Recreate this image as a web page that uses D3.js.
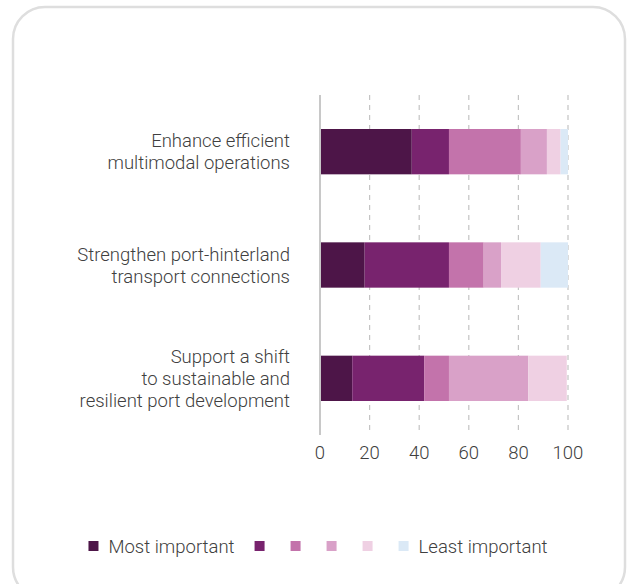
<!DOCTYPE html>
<html lang="en">
<head>
  <meta charset="UTF-8">
  <title>Priority ranking stacked bars</title>
  <script src="https://d3js.org/d3.v7.min.js"></script>
  <style>
    html, body {
      margin: 0;
      padding: 0;
      background: #fff;
    }
    svg text {
      font-family: Roboto, "Noto Sans", sans-serif;
      font-weight: 300;
      fill: #404040;
    }
  </style>
</head>
<body>
  <div id="chart"></div>
  <script>
    // Data (shares in %, most -> least important)
    var categories = [
      "Enhance efficient\nmultimodal operations",
      "Strengthen port-hinterland\ntransport connections",
      "Support a shift\nto sustainable and\nresilient port development"
    ];
    var rankKeys = ["r1", "r2", "r3", "r4", "r5", "r6"];
    var rank1 = [37, 18, 13];
    var rank2 = [15, 34, 29];
    var rank3 = [29, 14, 10];
    var rank4 = [10.5, 7, 32];
    var rank5 = [5.5, 16, 15.5];
    var rank6 = [3, 11, 0];
    var rankColors = ["#4d1548", "#78236e", "#c373ab", "#d9a1c8", "#efd0e3", "#dbe9f6"];
    var legendLabels = ["Most important", "", "", "", "", "Least important"];
    var tickValues = [0, 20, 40, 60, 80, 100];

    var width = 628, height = 584;
    var fontSize = 18.5;

    var svg = d3.select("#chart").append("svg")
      .attr("width", width)
      .attr("height", height);

    // card outline
    svg.append("rect")
      .attr("x", 13).attr("y", 7)
      .attr("width", 612).attr("height", 592)
      .attr("rx", 32).attr("ry", 32)
      .attr("fill", "#fff")
      .attr("stroke", "#dedede")
      .attr("stroke-width", 2.5);

    var x = d3.scaleLinear().domain([0, 100]).range([320, 568]);
    var y = d3.scaleBand().domain(categories).range([95, 435])
      .paddingInner(0.6).paddingOuter(0.3);

    // dashed gridlines
    svg.append("g")
      .selectAll("line")
      .data(tickValues.slice(1))
      .join("line")
      .attr("x1", d => x(d)).attr("x2", d => x(d))
      .attr("y1", 95).attr("y2", 435)
      .attr("stroke", "#c4c4c4")
      .attr("stroke-width", 1.2)
      .attr("stroke-dasharray", "5,5");

    // stacked bars
    var rows = categories.map(function(c, i) {
      return { cat: c, r1: rank1[i], r2: rank2[i], r3: rank3[i], r4: rank4[i], r5: rank5[i], r6: rank6[i] };
    });
    var stack = d3.stack().keys(rankKeys)(rows);

    svg.append("g")
      .selectAll("g")
      .data(stack)
      .join("g")
      .attr("fill", (d, i) => rankColors[i])
      .selectAll("rect")
      .data(d => d)
      .join("rect")
      .attr("x", d => x(d[0]))
      .attr("y", d => y(d.data.cat))
      .attr("width", d => x(d[1]) - x(d[0]))
      .attr("height", y.bandwidth());

    // baseline axis line
    svg.append("line")
      .attr("x1", x(0)).attr("x2", x(0))
      .attr("y1", 95).attr("y2", 435)
      .attr("stroke", "#c8c8c8")
      .attr("stroke-width", 2);

    // x tick labels
    svg.append("g")
      .selectAll("text")
      .data(tickValues)
      .join("text")
      .attr("x", d => x(d))
      .attr("y", 459)
      .attr("text-anchor", "middle")
      .attr("font-size", fontSize)
      .text(d => d);

    // category labels (multi-line, right aligned)
    var lineH = 22;
    categories.forEach(function(c) {
      var lines = c.split("\n");
      var cy = y(c) + y.bandwidth() / 2;
      var t = svg.append("text")
        .attr("text-anchor", "end")
        .attr("font-size", fontSize);
      lines.forEach(function(l, j) {
        t.append("tspan")
          .attr("x", 290)
          .attr("y", cy + (j - (lines.length - 1) / 2) * lineH + 6.5)
          .text(l);
      });
    });

    // legend
    var legend = svg.append("g");
    var lx = 0;
    legendLabels.forEach(function(lab, i) {
      legend.append("rect")
        .attr("x", lx).attr("y", 541)
        .attr("width", 10).attr("height", 10)
        .attr("fill", rankColors[i]);
      if (lab) {
        var t = legend.append("text")
          .attr("x", lx + 20).attr("y", 552.5)
          .attr("font-size", fontSize)
          .text(lab);
        lx += 20 + t.node().getComputedTextLength() + 20;
      } else {
        lx += 36;
      }
    });
    var legendW = lx - 20;
    legend.attr("transform", "translate(" + (318 - legendW / 2) + ",0)");
  </script>
</body>
</html>
